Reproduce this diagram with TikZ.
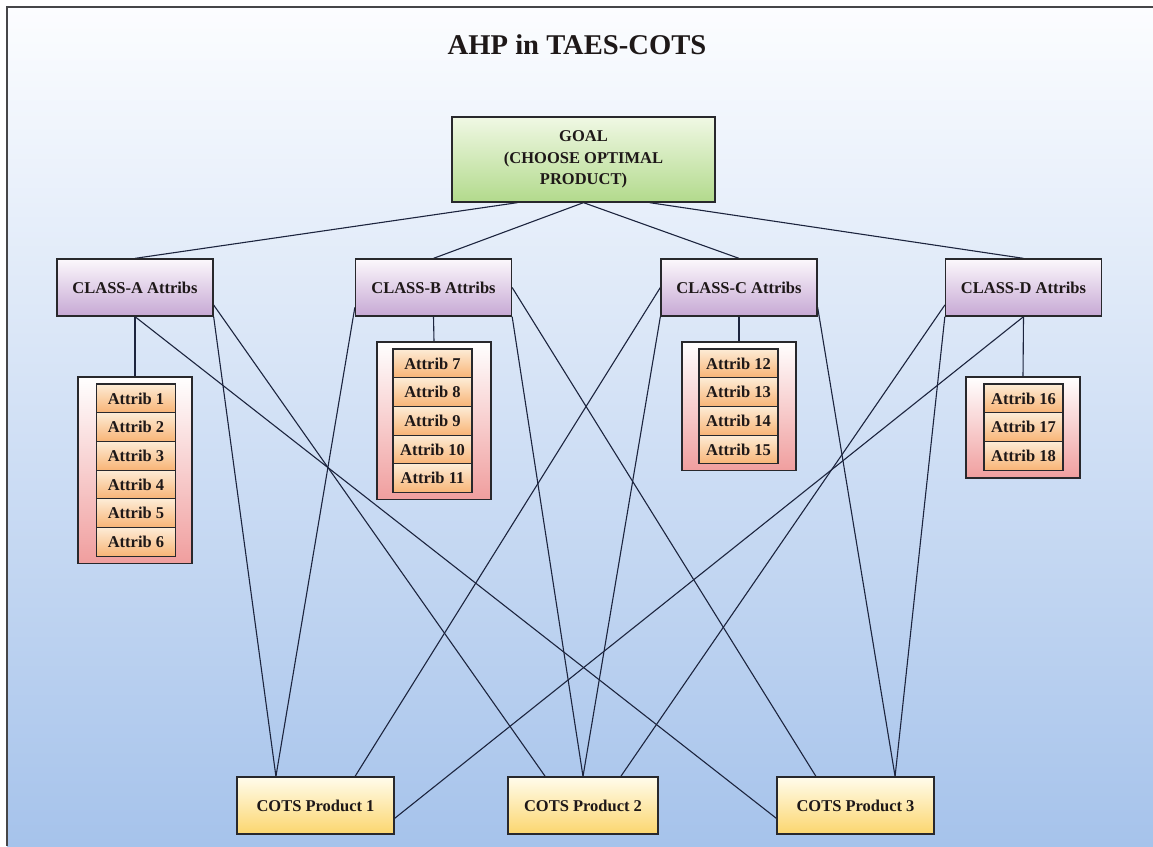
\documentclass[tikz,border=0pt]{standalone}
\usepackage{fontspec}
\setmainfont{Liberation Serif}
\usetikzlibrary{calc}
\pgfdeclarelayer{bg}
\pgfsetlayers{bg,main}

\definecolor{skytop}{RGB}{252,253,255}
\definecolor{skybot}{RGB}{166,195,235}
\definecolor{frameline}{RGB}{70,70,72}
\definecolor{boxline}{RGB}{40,40,44}
\definecolor{wire}{RGB}{28,36,62}
\definecolor{txt}{RGB}{30,24,24}
\definecolor{goaltop}{RGB}{240,248,228}
\definecolor{goalbot}{RGB}{178,218,140}
\definecolor{classtop}{RGB}{252,248,252}
\definecolor{classbot}{RGB}{198,168,212}
\definecolor{holdtop}{RGB}{255,255,255}
\definecolor{holdbot}{RGB}{240,158,158}
\definecolor{celltop}{RGB}{253,236,214}
\definecolor{cellbot}{RGB}{248,180,118}
\definecolor{prodtop}{RGB}{255,252,236}
\definecolor{prodbot}{RGB}{252,214,110}

\newcommand\bodyfont{\fontsize{16.5}{21.5}\selectfont\bfseries}
\newcommand\titlefont{\fontsize{28.6}{34}\selectfont\bfseries}

\tikzset{
  box/.style={draw=boxline, line width=1.3pt, inner sep=0pt, align=center,
              font=\bodyfont, text=txt},
  goalbox/.style={box, minimum width=263pt, minimum height=85pt,
                  top color=goaltop, bottom color=goalbot},
  classbox/.style={box, minimum width=156pt, minimum height=57pt,
                   top color=classtop, bottom color=classbot},
  holder/.style={box, minimum width=114pt, top color=holdtop, bottom color=holdbot},
  cell/.style={box, line width=1.1pt, minimum width=79pt, minimum height=28.7pt,
               top color=celltop, bottom color=cellbot},
  prodbox/.style={box, minimum height=57pt, top color=prodtop, bottom color=prodbot},
  wire/.style={draw=wire, line width=1.1pt},
}

\begin{document}
\begin{tikzpicture}[x=1pt,y=-1pt]
\useasboundingbox (0,0) rectangle (1153,846);

% title and goal
\node[font=\titlefont, text=txt] (title) at (577,45) {AHP in TAES-COTS};
\node[goalbox] (goal) at (583.5,159.5) {GOAL\\(CHOOSE OPTIMAL\\PRODUCT)};

% attribute classes
\node[classbox] (ca) at (135,287.5)  {CLASS-A Attribs};
\node[classbox] (cb) at (433.5,287.5) {CLASS-B Attribs};
\node[classbox] (cc) at (739,287.5)  {CLASS-C Attribs};
\node[classbox] (cd) at (1023.5,287.5) {CLASS-D Attribs};

% attribute lists
\node[holder, minimum height=186.2pt] (ga) at (135,470.1) {};
\foreach \i in {1,...,6}
  \node[cell] (at\i) at (136,{384+14.35+(\i-1)*28.7}) {Attrib \i};

\node[holder, minimum height=157.5pt] (gb) at (434,420.75) {};
\foreach \i in {7,...,11}
  \node[cell] (at\i) at (432.5,{349+14.35+(\i-7)*28.7}) {Attrib \i};

\node[holder, minimum height=128.8pt] (gc) at (739,406.4) {};
\foreach \i in {12,...,15}
  \node[cell] (at\i) at (738.5,{349+14.35+(\i-12)*28.7}) {Attrib \i};

\node[holder, minimum height=101.1pt] (gd) at (1023,427.55) {};
\foreach \i in {16,...,18}
  \node[cell] (at\i) at (1023.5,{384+14.35+(\i-16)*28.7}) {Attrib \i};

% candidate products
\node[prodbox, minimum width=157pt] (p1) at (315.5,805.5) {COTS Product 1};
\node[prodbox, minimum width=150pt] (p2) at (583,805.5)   {COTS Product 2};
\node[prodbox, minimum width=157pt] (p3) at (855.5,805.5) {COTS Product 3};

\begin{pgfonlayer}{bg}
  % page background
  \shade[top color=skytop, bottom color=skybot] (7,7) rectangle (1153,846);
  \draw[frameline, line width=1.4pt] (7,846) -- (7,7) -- (1153,7);

  % goal to classes
  \draw[wire] ($(goal.south west)!0.25!(goal.south east)$) -- (ca.north);
  \draw[wire] (goal.south) -- (cb.north);
  \draw[wire] (goal.south) -- (cc.north);
  \draw[wire] ($(goal.south west)!0.75!(goal.south east)$) -- (cd.north);

  % classes to their attribute lists
  \draw[wire] (ca.south) -- (ga.north);
  \draw[wire] (cb.south) -- (gb.north);
  \draw[wire] (cc.south) -- (gc.north);
  \draw[wire] (cd.south) -- (gd.north);

  % connection points on the products
  \coordinate (p1a) at ($(p1.north west)!0.25!(p1.north east)$);
  \coordinate (p1b) at ($(p1.north west)!0.75!(p1.north east)$);
  \coordinate (p1r) at ($(p1.north east)!0.72!(p1.south east)$);
  \coordinate (p2a) at ($(p2.north west)!0.25!(p2.north east)$);
  \coordinate (p2b) at ($(p2.north west)!0.75!(p2.north east)$);
  \coordinate (p3a) at ($(p3.north west)!0.25!(p3.north east)$);
  \coordinate (p3b) at ($(p3.north west)!0.75!(p3.north east)$);
  \coordinate (p3l) at ($(p3.north west)!0.72!(p3.south west)$);

  % classes to products
  \draw[wire] (ca.south east) -- (p1a);
  \draw[wire] ($(ca.north east)!0.8!(ca.south east)$) -- (p2a);
  \draw[wire] (ca.south) -- (p3l);

  \draw[wire] ($(cb.north west)!0.84!(cb.south west)$) -- (p1a);
  \draw[wire] (cb.south east) -- (p2.north);
  \draw[wire] (cb.east) -- (p3a);

  \draw[wire] (cc.west) -- (p1b);
  \draw[wire] (cc.south west) -- (p2.north);
  \draw[wire] ($(cc.north east)!0.84!(cc.south east)$) -- (p3b);

  \draw[wire] (cd.south) -- (p1r);
  \draw[wire] ($(cd.north west)!0.8!(cd.south west)$) -- (p2b);
  \draw[wire] (cd.south west) -- (p3b);
\end{pgfonlayer}
\end{tikzpicture}
\end{document}
